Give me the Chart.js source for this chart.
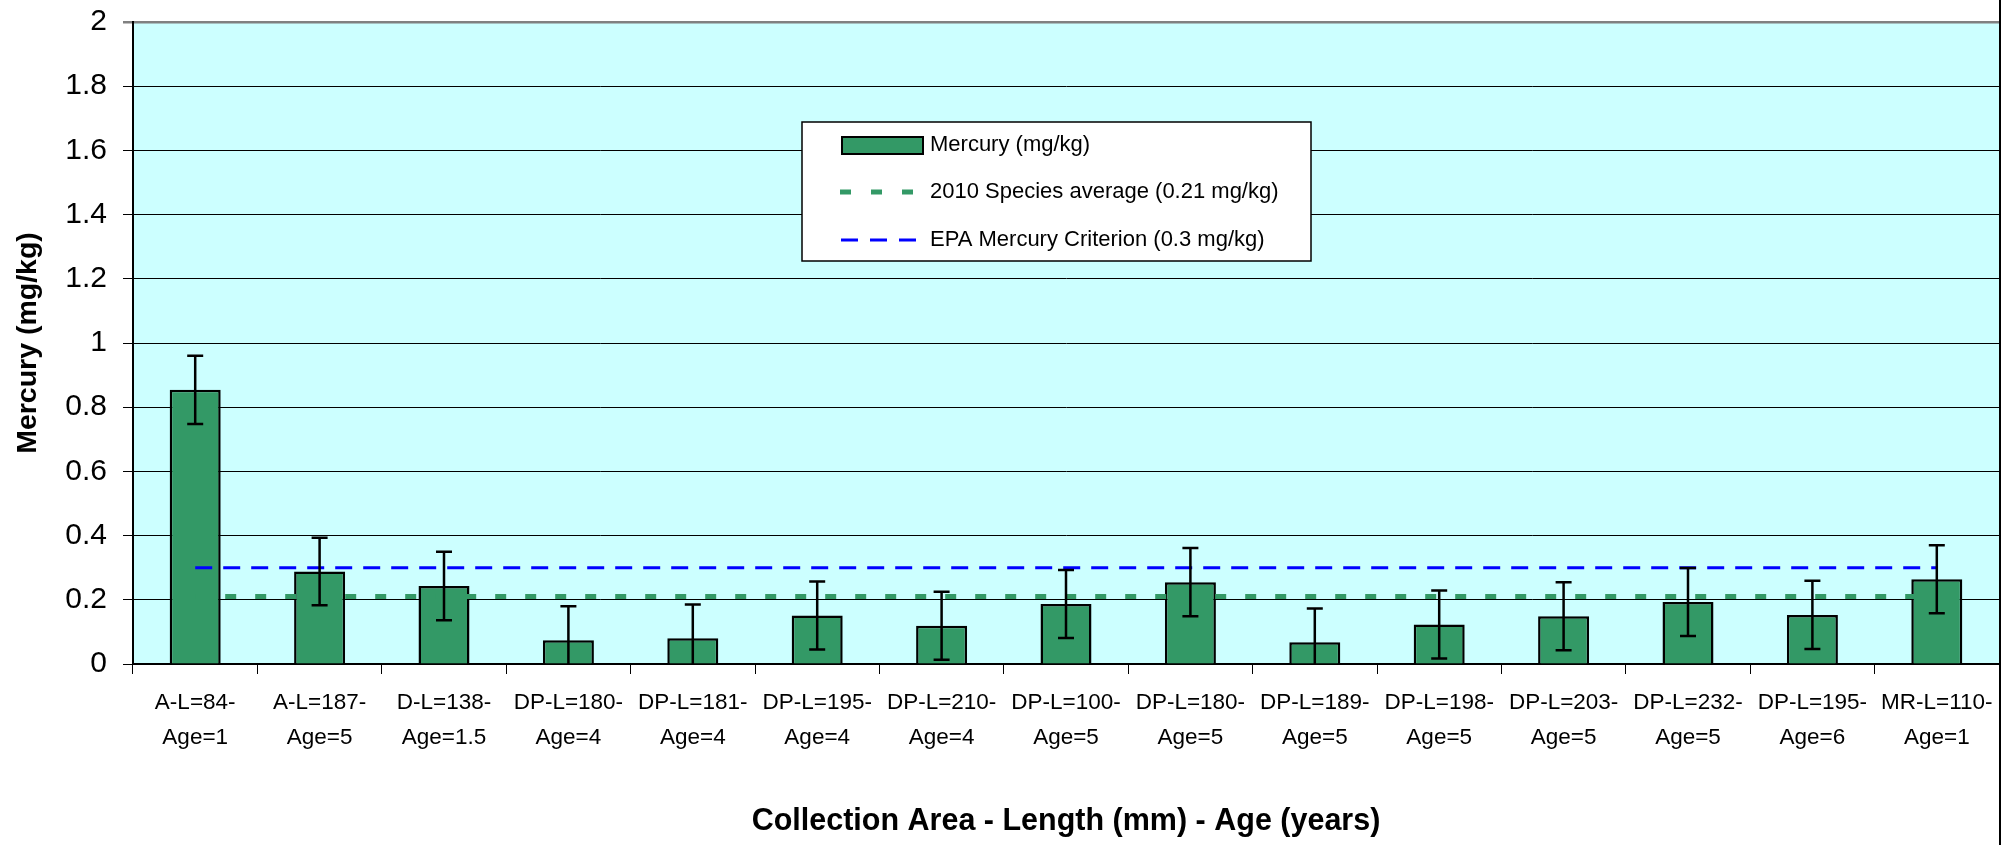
<!DOCTYPE html>
<html>
<head>
<meta charset="utf-8">
<script src="https://cdn.jsdelivr.net/npm/chart.js@4"></script>
<style>
  body { margin: 0; background: #fff; }
  canvas { display: block; }
</style>
</head>
<body>
<canvas id="mercuryChart" width="2011" height="845"></canvas>
<script>
// categories: collection area - length - age
const categories = [
  ['A-L=84-', 'Age=1'], ['A-L=187-', 'Age=5'], ['D-L=138-', 'Age=1.5'],
  ['DP-L=180-', 'Age=4'], ['DP-L=181-', 'Age=4'], ['DP-L=195-', 'Age=4'],
  ['DP-L=210-', 'Age=4'], ['DP-L=100-', 'Age=5'], ['DP-L=180-', 'Age=5'],
  ['DP-L=189-', 'Age=5'], ['DP-L=198-', 'Age=5'], ['DP-L=203-', 'Age=5'],
  ['DP-L=232-', 'Age=5'], ['DP-L=195-', 'Age=6'], ['MR-L=110-', 'Age=1']
];
const mercury = [0.854, 0.288, 0.243, 0.074, 0.080, 0.151, 0.119, 0.187, 0.255, 0.068, 0.123, 0.149, 0.193, 0.153, 0.264];
const mercuryError = [0.106, 0.105, 0.107, 0.106, 0.105, 0.106, 0.106, 0.106, 0.106, 0.105, 0.106, 0.106, 0.106, 0.106, 0.106];
const speciesAverage = [0.21, 0.21, 0.21, 0.21, 0.21, 0.21, 0.21, 0.21, 0.21, 0.21, 0.21, 0.21, 0.21, 0.21, 0.21];
const epaCriterion = [0.3, 0.3, 0.3, 0.3, 0.3, 0.3, 0.3, 0.3, 0.3, 0.3, 0.3, 0.3, 0.3, 0.3, 0.3];
const yTickLabels = ['0', '0.2', '0.4', '0.6', '0.8', '1', '1.2', '1.4', '1.6', '1.8', '2'];

const GREEN = '#339966';
const BLUE = '#0000FF';

Chart.defaults.font.family = "'Liberation Sans', Arial, sans-serif";
Chart.defaults.color = '#000';

// light cyan plot background
const plotBackground = {
  id: 'plotBackground',
  beforeDraw(chart) {
    const { ctx, chartArea: a } = chart;
    ctx.save();
    ctx.fillStyle = '#CCFFFF';
    ctx.fillRect(a.left, a.top, a.right - a.left, a.bottom - a.top);
    ctx.restore();
  }
};

// error bars on the mercury bars
const errorBars = {
  id: 'errorBars',
  afterDatasetsDraw(chart) {
    const { ctx } = chart;
    const yScale = chart.scales.y;
    const meta = chart.getDatasetMeta(0);
    ctx.save();
    ctx.strokeStyle = '#000';
    ctx.lineWidth = 2.5;
    meta.data.forEach((bar, i) => {
      const hi = mercury[i] + mercuryError[i];
      const lo = mercury[i] - mercuryError[i];
      const yHi = yScale.getPixelForValue(hi);
      const yLo = yScale.getPixelForValue(Math.max(lo, 0));
      ctx.beginPath();
      ctx.moveTo(bar.x, yHi);
      ctx.lineTo(bar.x, yLo);
      ctx.moveTo(bar.x - 8, yHi);
      ctx.lineTo(bar.x + 8, yHi);
      if (lo > 0) {
        ctx.moveTo(bar.x - 8, yLo);
        ctx.lineTo(bar.x + 8, yLo);
      }
      ctx.stroke();
    });
    ctx.restore();
  }
};

// boxed legend inside the plot + right frame line
const boxLegend = {
  id: 'boxLegend',
  afterDraw(chart) {
    const { ctx } = chart;
    const ds = chart.data.datasets;
    ctx.save();
    ctx.fillStyle = '#fff';
    ctx.fillRect(802, 122, 509, 139);
    ctx.strokeStyle = '#000';
    ctx.lineWidth = 1.5;
    ctx.strokeRect(802, 122, 509, 139);

    // bar swatch
    ctx.fillStyle = GREEN;
    ctx.fillRect(842, 137, 81, 17);
    ctx.lineWidth = 2;
    ctx.strokeRect(842, 137, 81, 17);

    // species average swatch
    ctx.strokeStyle = GREEN;
    ctx.lineWidth = 5;
    ctx.setLineDash([11, 20]);
    ctx.beginPath();
    ctx.moveTo(840, 192);
    ctx.lineTo(914, 192);
    ctx.stroke();

    // EPA swatch
    ctx.strokeStyle = BLUE;
    ctx.lineWidth = 3;
    ctx.setLineDash([17, 12]);
    ctx.beginPath();
    ctx.moveTo(841, 240);
    ctx.lineTo(916, 240);
    ctx.stroke();
    ctx.setLineDash([]);

    ctx.fillStyle = '#000';
    ctx.font = "22px 'Liberation Sans', Arial, sans-serif";
    ctx.textBaseline = 'middle';
    ctx.fillText(ds[0].label, 930, 145);
    ctx.fillText(ds[1].label, 930, 192);
    ctx.fillText(ds[2].label, 930, 240);

    // outer frame line on the right
    ctx.strokeStyle = '#000';
    ctx.lineWidth = 2;
    ctx.beginPath();
    ctx.moveTo(2000, 0);
    ctx.lineTo(2000, 845);
    ctx.stroke();
    ctx.restore();
  }
};

new Chart(document.getElementById('mercuryChart'), {
  data: {
    labels: categories,
    datasets: [
      {
        type: 'bar',
        label: 'Mercury (mg/kg)',
        data: mercury,
        backgroundColor: GREEN,
        borderColor: '#000',
        borderWidth: 2.5,
        categoryPercentage: 1,
        barPercentage: 0.41,
        order: 2
      },
      {
        type: 'line',
        label: '2010 Species average (0.21 mg/kg)',
        data: speciesAverage,
        borderColor: GREEN,
        borderWidth: 5,
        borderDash: [11, 19],
        pointRadius: 0,
        fill: false,
        order: 1
      },
      {
        type: 'line',
        label: 'EPA Mercury Criterion (0.3 mg/kg)',
        data: epaCriterion,
        borderColor: BLUE,
        borderWidth: 3,
        borderDash: [17, 11],
        pointRadius: 0,
        fill: false,
        order: 0
      }
    ]
  },
  options: {
    responsive: false,
    devicePixelRatio: 1,
    animation: false,
    layout: { padding: { left: 0, right: 12, top: 22, bottom: 0 } },
    plugins: {
      legend: { display: false },
      tooltip: { enabled: false }
    },
    scales: {
      x: {
        type: 'category',
        offset: true,
        grid: {
          offset: true,
          drawOnChartArea: false,
          drawTicks: true,
          tickLength: 10,
          color: '#000'
        },
        border: { color: '#000', width: 2 },
        ticks: {
          autoSkip: false,
          maxRotation: 0,
          minRotation: 0,
          padding: 11,
          font: { size: 22.5, lineHeight: 1.56 }
        },
        title: {
          display: true,
          text: 'Collection Area - Length (mm) - Age (years)',
          font: { size: 30.5, weight: 'bold', lineHeight: 1.2 },
          padding: { top: 0, bottom: 5 }
        },
        afterFit(scale) {
          scale.height = 181;
          scale.paddingLeft = 0;
          scale.paddingRight = 0;
        }
      },
      y: {
        min: 0,
        max: 2,
        grid: {
          color: ctx => (ctx.tick && ctx.tick.value === 2 ? '#808080' : '#000'),
          lineWidth: ctx => (ctx.tick && ctx.tick.value === 2 ? 2.5 : 1),
          tickLength: 10
        },
        border: { color: '#000', width: 2 },
        ticks: {
          stepSize: 0.2,
          padding: 16,
          font: { size: 30 },
          callback: (v, i) => yTickLabels[i]
        },
        title: {
          display: true,
          text: 'Mercury (mg/kg)',
          font: { size: 28.5, weight: 'bold', lineHeight: 1.2 },
          padding: { top: 11, bottom: 0 }
        },
        afterFit(scale) {
          scale.width = 133;
          scale.paddingTop = 0;
          scale.paddingBottom = 0;
        }
      }
    }
  },
  plugins: [plotBackground, errorBars, boxLegend]
});
</script>
</body>
</html>
